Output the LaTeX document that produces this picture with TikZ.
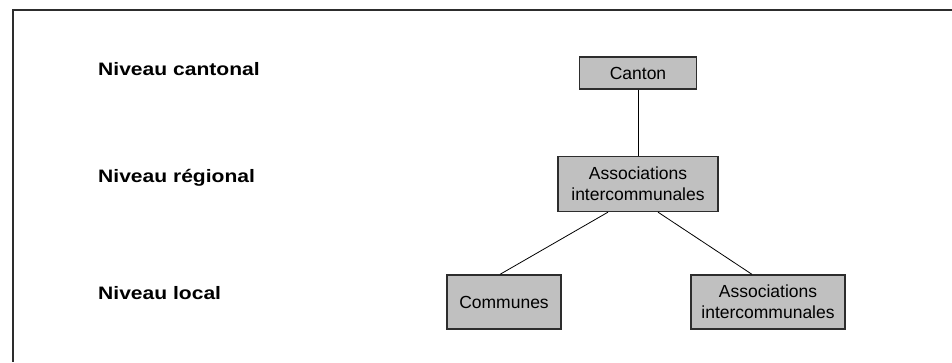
\documentclass[tikz,border=0pt]{standalone}
\usepackage{fontspec}
\setmainfont{Liberation Sans}
\newfontfamily\levelfont{Liberation Sans}[FakeStretch=1.17]
\usepackage{tikz}
\usetikzlibrary{positioning}
\definecolor{boxgray}{RGB}{192, 192, 192}
\definecolor{edgegray}{RGB}{45, 45, 45}

\begin{document}
\begin{tikzpicture}[x=1pt, y=-1pt,
    level/.style={font=\levelfont\fontsize{18}{21}\selectfont\bfseries, anchor=west, inner sep=0pt},
    unit/.style={draw=edgegray, line width=1.3pt, fill=boxgray, inner sep=0pt, align=center,
                 font=\fontsize{17.5}{21}\selectfont}]
    \useasboundingbox (0,0) rectangle (952,362);
    % open frame
    \draw[line width=1.4pt, color=edgegray] (952,10) -- (13,10) -- (13,362);

    \node[level] (lvcant) at (98,69) {Niveau cantonal};
    \node[level] (lvreg) at (98,178) {Niveau régional};
    \node[level] (lvloc) at (98,293) {Niveau local};

    \node[unit, minimum width=117pt, minimum height=32pt] (canton) at (638,73) {Canton};
    \node[unit, minimum width=160pt, minimum height=55pt] (regional) at (638,184) {Associations\\intercommunales};
    \node[unit, minimum width=114pt, minimum height=54pt] (communes) at (504,302) {Communes};
    \node[unit, minimum width=154pt, minimum height=54pt] (assocloc) at (768,302) {Associations\\intercommunales};

    \draw[thick] (canton.south) -- (regional.north);
    \draw[thick] ([xshift=-30pt]regional.south) -- ([xshift=-4pt]communes.north);
    \draw[thick] ([xshift=20pt]regional.south) -- ([xshift=-16pt]assocloc.north);
\end{tikzpicture}
\end{document}
